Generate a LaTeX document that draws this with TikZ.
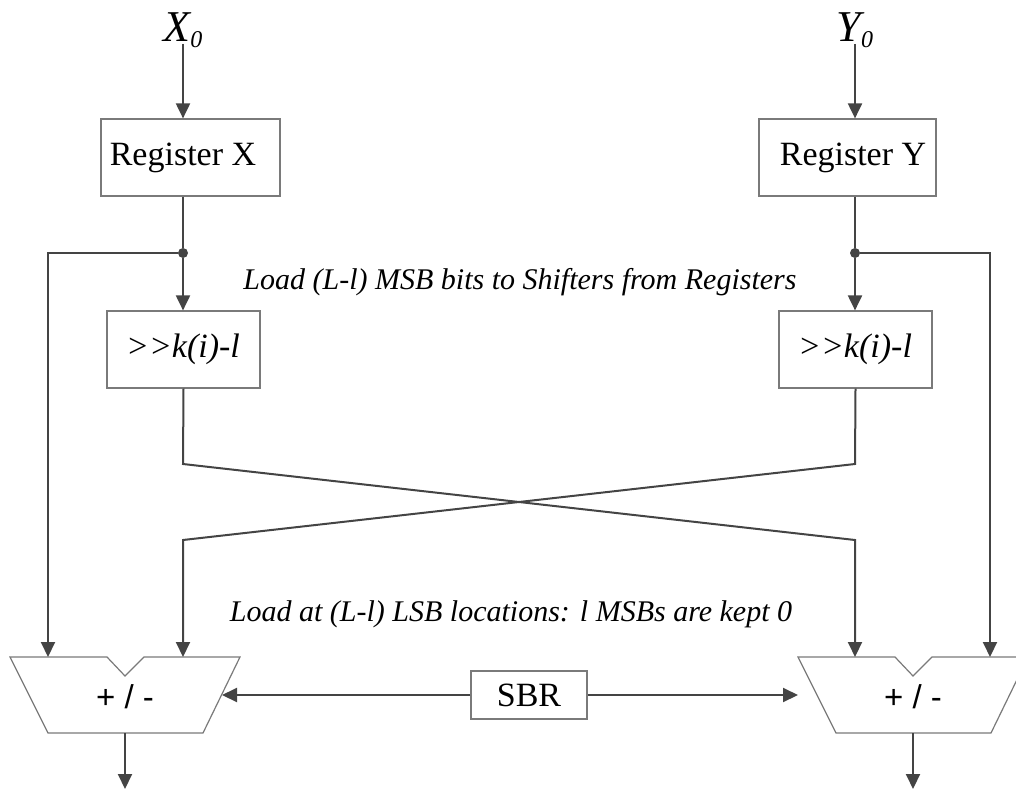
\documentclass[tikz,border=0pt]{standalone}
\usepackage{fontspec}
\setmainfont{Liberation Serif}[ItalicFont={Liberation Serif Italic},BoldFont={Liberation Serif Bold}]
\newfontfamily\itserif{Liberation Serif Italic}
\newfontfamily\sansf{Liberation Sans}
\usetikzlibrary{arrows.meta}
\definecolor{ln}{HTML}{444444}
\definecolor{bx}{HTML}{7A7A7A}
\begin{document}
\begin{tikzpicture}[x=1pt,y=-1pt,
  conn/.style={draw=ln,line width=2pt},
  arr/.style={conn,-{Triangle[length=15pt,width=14pt]}},
  boxs/.style={draw=bx,line width=1.2pt,fill=white,inner sep=0},
  lbl/.style={font=\fontsize{34}{38}\selectfont,inner sep=0},
  ilbl/.style={font=\itserif\fontsize{34}{38}\selectfont,inner sep=0},
  note/.style={font=\itserif\fontsize{30}{34}\selectfont,inner sep=0},
  dot/.style={circle,fill=ln,inner sep=0,minimum size=10pt}]
\useasboundingbox (0,0) rectangle (1016,789);

% input labels
\node[inner sep=0,anchor=base] (x0) at (183,42) {\itserif\fontsize{44}{48}\selectfont X\raisebox{-6pt}{\fontsize{24}{28}\selectfont 0}};
\node[inner sep=0,anchor=base] (y0) at (855,42) {\itserif\fontsize{44}{48}\selectfont Y\raisebox{-6pt}{\fontsize{24}{28}\selectfont 0}};
\coordinate (xin) at (183,44);
\coordinate (yin) at (855,44);

% registers
\node[boxs,minimum width=179pt,minimum height=77pt] (regX) at (190.5,157.5) {};
\node[lbl] (regXt) at (183,157.5) {Register X};
\node[boxs,minimum width=177pt,minimum height=77pt] (regY) at (847.5,157.5) {};
\node[lbl] (regYt) at (853,157.5) {Register Y};

% shifters
\node[boxs,minimum width=153pt,minimum height=77pt] (shX) at (183.5,349.5) {};
\node[ilbl] (shXt) at (183,349.5) {>{}>k(i)-l};
\node[boxs,minimum width=153pt,minimum height=77pt] (shY) at (855.5,349.5) {};
\node[ilbl] (shYt) at (855,349.5) {>{}>k(i)-l};

% dots
\node[dot] (dX) at (183,253) {};
\node[dot] (dY) at (855,253) {};

% notes
\node[note] (n1) at (520,282) {Load (L-l) MSB bits to Shifters from Registers};
\node[note] (n2) at (511,614) {Load at (L-l) LSB locations: l MSBs are kept 0};

% adders
\draw[draw=bx,line width=1.2pt,fill=white] (10,657) -- (107,657) -- (125,676) -- (144,657) -- (240,657) -- (203,733) -- (48,733) -- cycle;
\draw[draw=bx,line width=1.2pt,fill=white] (798,657) -- (895,657) -- (913,676) -- (932,657) -- (1028,657) -- (991,733) -- (836,733) -- cycle;
\node[font=\sansf\fontsize{33}{36}\selectfont,inner sep=0] (addL) at (125,697) {+ / -};
\node[font=\sansf\fontsize{33}{36}\selectfont,inner sep=0] (addR) at (913,697) {+ / -};

\coordinate (inLa) at (48,657);
\coordinate (inLb) at (183,657);
\coordinate (inRa) at (855,657);
\coordinate (inRb) at (990,657);
\coordinate (sideL) at (222,695);
\coordinate (sideR) at (798,695);
\coordinate (outL) at (125,733);
\coordinate (outR) at (913,733);
\coordinate (endL) at (125,789);
\coordinate (endR) at (913,789);
\coordinate (bXa) at (183,464);
\coordinate (bXb) at (855,540);
\coordinate (bYa) at (855,464);
\coordinate (bYb) at (183,540);

% SBR
\node[boxs,minimum width=116pt,minimum height=48pt] (sbr) at (529,695) {};
\node[lbl] (sbrt) at (529,695) {SBR};

% connectors
\draw[arr] (xin) -- (xin |- regX.north);
\draw[arr] (yin) -- (yin |- regY.north);
\draw[conn] (regX.south -| dX) -- (dX);
\draw[conn] (regY.south -| dY) -- (dY);
\draw[arr] (dX) -- (dX |- shX.north);
\draw[arr] (dY) -- (dY |- shY.north);
\draw[arr] (dX) -| (inLa);
\draw[arr] (dY) -| (inRb);
\draw[arr] (shX.south) -- (bXa) -- (bXb) -- (inRa);
\draw[arr] (shY.south) -- (bYa) -- (bYb) -- (inLb);
\draw[arr] (sbr.west) -- (sideL);
\draw[arr] (sbr.east) -- (sideR);
\draw[arr] (outL) -- (endL);
\draw[arr] (outR) -- (endR);
\end{tikzpicture}
\end{document}
